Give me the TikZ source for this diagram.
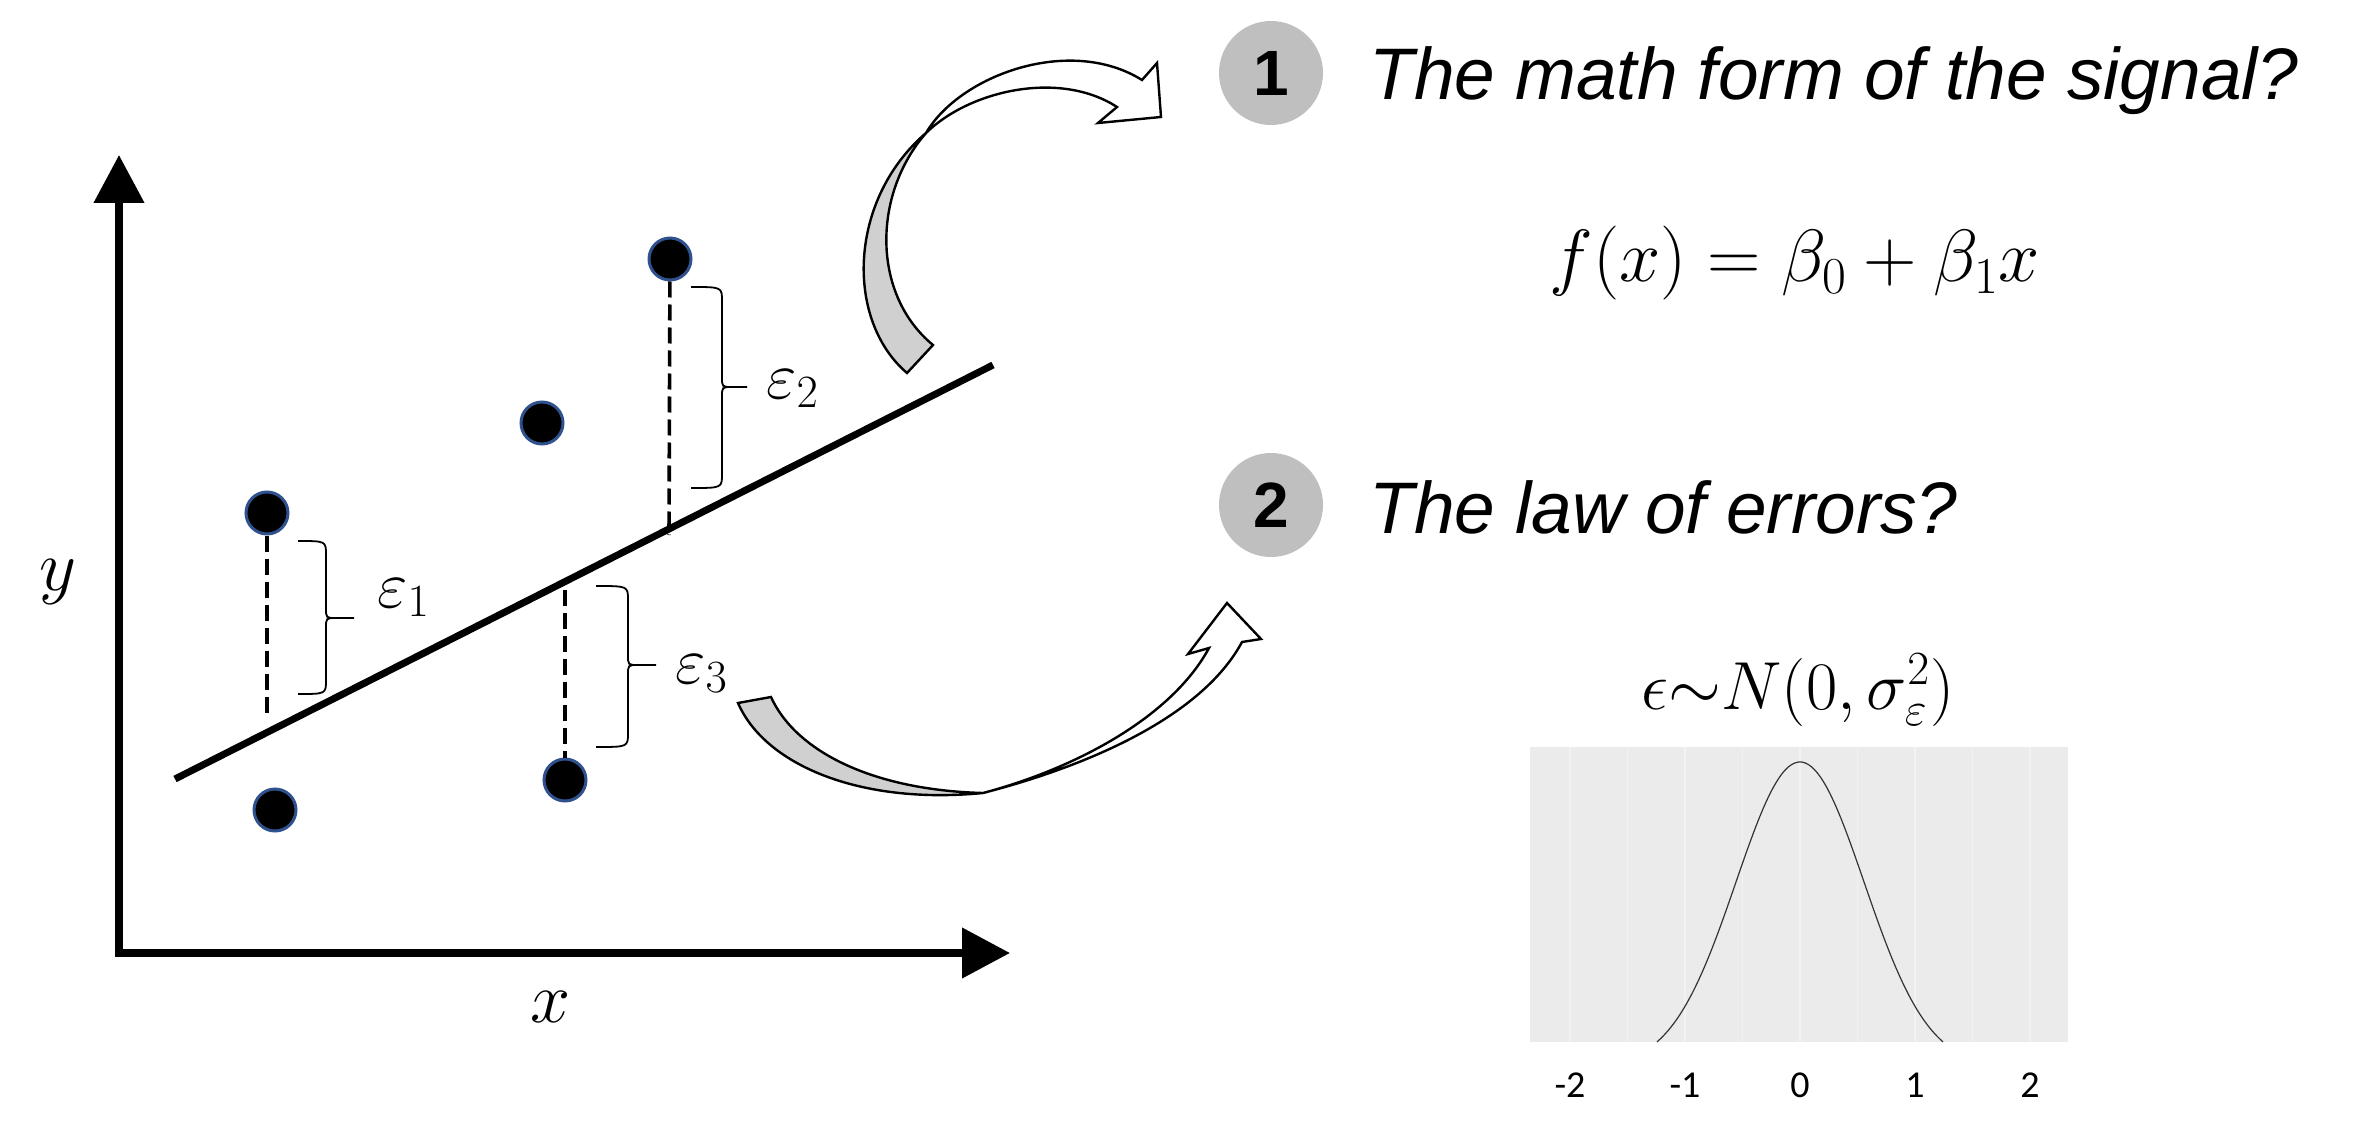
\RequirePackage{fix-cm}
\documentclass[tikz,border=0pt]{standalone}
\usepackage{fontspec}
\usepackage{amsmath}
\newfontfamily\arialfont{Liberation Sans}
\newfontfamily\calfont{Carlito}
\usetikzlibrary{arrows.meta}
\definecolor{ptblue}{RGB}{47,82,143}
\definecolor{circgray}{RGB}{191,191,191}
\definecolor{ribbongray}{RGB}{208,208,208}
\definecolor{panelgray}{RGB}{235,235,235}
\definecolor{gridgray}{RGB}{242,242,242}
\newcommand\mybrace[6]{%
  \draw[bracestyle] (#1,#4) .. controls (#2,#4) .. (#2,#4+14) -- (#2,#5-10)
    .. controls (#2,#5) .. (#2+10,#5) -- (#3,#5)
    (#3,#5) -- (#2+10,#5) .. controls (#2,#5) .. (#2,#5+10) -- (#2,#6-14)
    .. controls (#2,#6) .. (#1,#6);}
\tikzset{
  axisline/.style={line width=3.8pt, {Triangle[length=24pt,width=24.5pt]}-{Triangle[length=24pt,width=24.5pt]}},
  regline/.style={line width=3.5pt},
  datapt/.style={circle, fill=black, draw=ptblue, line width=1.5pt, minimum size=21pt, inner sep=0pt},
  resid/.style={line width=1.8pt, dash pattern=on 8pt off 3.5pt},
  bracestyle/.style={line width=0.9pt},
  ribbon/.style={draw=black, line width=1.2pt},
  numcirc/.style={circle, fill=circgray, minimum size=52pt, inner sep=0pt, font=\fontsize{32pt}{36pt}\selectfont\arialfont\bfseries},
  question/.style={anchor=base west, inner sep=0pt, font=\fontsize{36.5pt}{44pt}\selectfont\arialfont\itshape},
  mathlbl/.style={inner sep=0pt, font=\fontsize{33pt}{38pt}\selectfont},
  ticklbl/.style={anchor=base, inner sep=0pt, font=\fontsize{19pt}{22pt}\selectfont\calfont}
}
\begin{document}
\begin{tikzpicture}[x=0.5pt,y=-0.5pt]
\useasboundingbox (0,0) rectangle (2356,1134);

% axes
\coordinate (O) at (119,953);
\coordinate (xt) at (1010,953);
\coordinate (yt) at (119,155);
\draw[axisline] (yt) -- (O) -- (xt);
\node[mathlbl, font=\fontsize{36pt}{40pt}\selectfont] (ylab) at (58,582) {$y$};
\node[mathlbl, font=\fontsize{36pt}{40pt}\selectfont] (xlab) at (551,1007) {$x$};

% regression line
\coordinate (l1) at (175,779);
\coordinate (l2) at (993,365);
\draw[regline] (l1) -- (l2);

% residuals
\coordinate (d1) at (267,718);
\coordinate (d4) at (669,535);
\coordinate (d5) at (565,590);
\node[datapt] (p1) at (267,513) {};
\node[datapt] (p2) at (275,810) {};
\node[datapt] (p3) at (542,423) {};
\node[datapt] (p4) at (670,259) {};
\node[datapt] (p5) at (565,780) {};
\draw[resid] (p1) -- (d1);
\draw[resid] (p4) -- (d4);
\draw[resid] (d5) -- (p5);

% braces
\mybrace{298}{326}{354}{541}{618}{694}
\mybrace{691}{722}{747}{287}{387}{488}
\mybrace{596}{628}{656}{586}{665}{747}
\node[mathlbl, anchor=base west] (e1) at (377,607) {$\varepsilon_1$};
\node[mathlbl, anchor=base west] (e2) at (766,398) {$\varepsilon_2$};
\node[mathlbl, anchor=base west] (e3) at (675,683) {$\varepsilon_3$};

% upper curved arrow
\filldraw[ribbon, fill=ribbongray] (907,373) .. controls (845,320) and (848,200) .. (926,133)
  .. controls (872,195) and (872,295) .. (933,345) -- cycle;
\filldraw[ribbon, fill=white] (926,133) .. controls (970,90) and (1060,70) .. (1117,107)
  -- (1098,123) -- (1161,117) -- (1157,63) -- (1142,80)
  .. controls (1070,35) and (960,75) .. (926,133) -- cycle;

% lower curved arrow
\filldraw[ribbon, fill=ribbongray] (738,703) .. controls (765,765) and (860,805) .. (983,793)
  .. controls (870,790) and (795,750) .. (771,697) -- cycle;
\filldraw[ribbon, fill=white] (983,793) .. controls (1080,768) and (1200,720) .. (1242,642)
  -- (1261,639) -- (1227,603) -- (1188,654) -- (1209,648)
  .. controls (1170,720) and (1070,770) .. (983,793) -- cycle;

% right side
\node[numcirc] (c1) at (1271,73) {1};
\node[numcirc] (c2) at (1271,505) {2};
\node[question] (q1) at (1369,100) {The math form of the signal?};
\node[question] (q2) at (1369,533) {The law of errors?};
\node[mathlbl, anchor=base, font=\fontsize{37pt}{42pt}\selectfont] (fx) at (1795,282) {$f(x)=\beta_0+\beta_1x$};
\node[mathlbl, anchor=base, font=\fontsize{34pt}{40pt}\selectfont] (law) at (1798,709) {$\epsilon{\sim}N(0,\sigma_\varepsilon^2)$};

% density panel
\fill[panelgray] (1530,747) rectangle (2068,1042);
\foreach \gx in {1570,1627.5,1685,1742.5,1800,1857.5,1915,1972.5,2030}
  \draw[gridgray, line width=0.8pt] (\gx,747) -- (\gx,1042);
\draw[line width=0.6pt, black!80, smooth, samples=90, domain=-2.234:2.234]
  plot ({1800+64*\x}, {762+305*(1-exp(-0.5*\x*\x))});
\node[ticklbl] (t1) at (1570,1097) {-2};
\node[ticklbl] (t2) at (1685,1097) {-1};
\node[ticklbl] (t3) at (1800,1097) {0};
\node[ticklbl] (t4) at (1915,1097) {1};
\node[ticklbl] (t5) at (2030,1097) {2};
\end{tikzpicture}
\end{document}
